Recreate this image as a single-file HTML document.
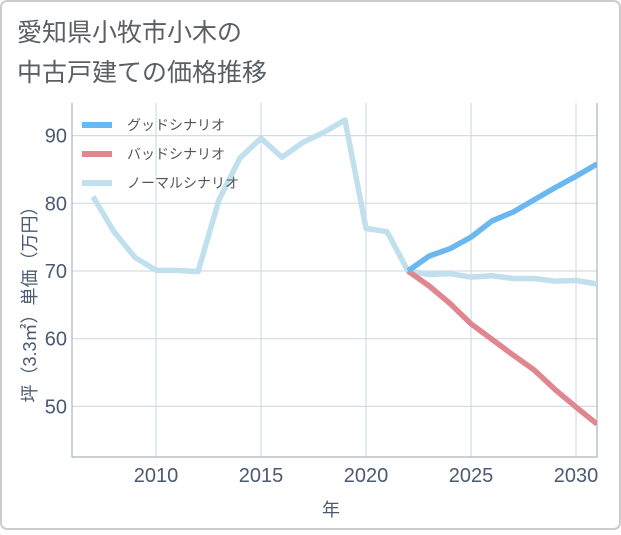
<!DOCTYPE html>
<html><head><meta charset="utf-8"><style>
html,body{margin:0;padding:0;background:#fff;}
svg text{font-family:"Liberation Sans","Noto Sans CJK JP",sans-serif;}
</style></head><body>
<svg width="621" height="530" viewBox="0 0 621 530" xmlns="http://www.w3.org/2000/svg">
<rect x="1" y="1" width="619" height="528" rx="6" fill="#fff" stroke="#ccc" stroke-width="2"/>
<text x="17" y="41" font-size="25" fill="#5a5f66">愛知県小牧市小木の</text>
<text x="17" y="81" font-size="25" fill="#5a5f66">中古戸建ての価格推移</text>
<g id="grid"></g>
<g id="series"></g>
<g id="legend"></g>
<text x="331" y="516" font-size="18" fill="#4a5a70" text-anchor="middle">年</text>
<text transform="translate(36,300) rotate(-90)" font-size="18" fill="#4a5a70" text-anchor="middle">坪（3.3㎡）単価（万円）</text>
</svg>
<script>
const years=[2007,2008,2009,2010,2011,2012,2013,2014,2015,2016,2017,2018,2019,2020,2021,2022,2023,2024,2025,2026,2027,2028,2029,2030,2031];
const normal=[81,75.8,72,70.1,70.1,69.9,80.5,86.7,89.6,86.8,89,90.5,92.3,76.3,75.8,70,69.5,69.6,69.1,69.3,68.9,68.9,68.5,68.6,68.1];
const fYears=[2022,2023,2024,2025,2026,2027,2028,2029,2030,2031];
const good=[70,72.2,73.3,75,77.4,78.7,80.5,82.3,84,85.8];
const bad=[70,67.8,65.2,62.2,59.9,57.6,55.4,52.5,49.9,47.4];
const xTicks=[2010,2015,2020,2025,2030];
const yTicks=[50,60,70,80,90];
const L=72,R=597,T=103,B=457;
const x=v=>L+(v-2006)*(R-L)/25;
const y=v=>271-(v-70)*6.77;
const NS='http://www.w3.org/2000/svg';
function mk(t,a,p){const e=document.createElementNS(NS,t);for(const k in a)e.setAttribute(k,a[k]);p.appendChild(e);return e;}
const g=document.getElementById('grid');
yTicks.forEach(v=>{
 const l=mk('line',{x1:L,x2:R,y1:y(v),y2:y(v),stroke:'#d3dce6','stroke-width':1.2},g);
 
 
 const t=mk('text',{x:L-5,y:y(v)+7,'font-size':20,fill:'#4a5a70','text-anchor':'end'},g);t.textContent=v;
 
 
});
xTicks.forEach(v=>{
 const l=mk('line',{x1:x(v),x2:x(v),y1:T,y2:B,stroke:'#d3dce6','stroke-width':1.2},g);
 
 
 const t=mk('text',{x:x(v),y:482,'font-size':20,fill:'#4a5a70','text-anchor':'middle'},g);t.textContent=v;
 
 
});
const fr=mk('path',{d:`M${L},${T}V${B}H${R}V${T}`,fill:'none',stroke:'#aab4c0','stroke-width':1.2},g);


const s=document.getElementById('series');
const cp=mk('clipPath',{id:'cp'},s);mk('rect',{x:L,y:T,width:R-L,height:B-T},cp);
function line(xs,vs,c,name){const p=mk('polyline',{points:xs.map((v,i)=>x(v)+','+y(vs[i])).join(' '),fill:'none',stroke:c,'stroke-width':5.5,'stroke-linejoin':'round','clip-path':'url(#cp)'},s);
 
 }
line(years,normal,'#bfe0ec','normal-scenario-line');
line(fYears,bad,'#e0868f','bad-scenario-line');
line(fYears,good,'#6ab8ef','good-scenario-line');
const lg=document.getElementById('legend');
[['グッドシナリオ','#6ab8ef'],['バッドシナリオ','#e0868f'],['ノーマルシナリオ','#bfe0ec']].forEach((d,i)=>{
 const yy=125+i*29;
 const r=mk('rect',{x:82,y:yy-3,width:30,height:6,fill:d[1]},lg);
 
 
 const t=mk('text',{x:127,y:yy+5,'font-size':14,fill:'#555'},lg);t.textContent=d[0];
 
 
});
</script>
</body></html>
